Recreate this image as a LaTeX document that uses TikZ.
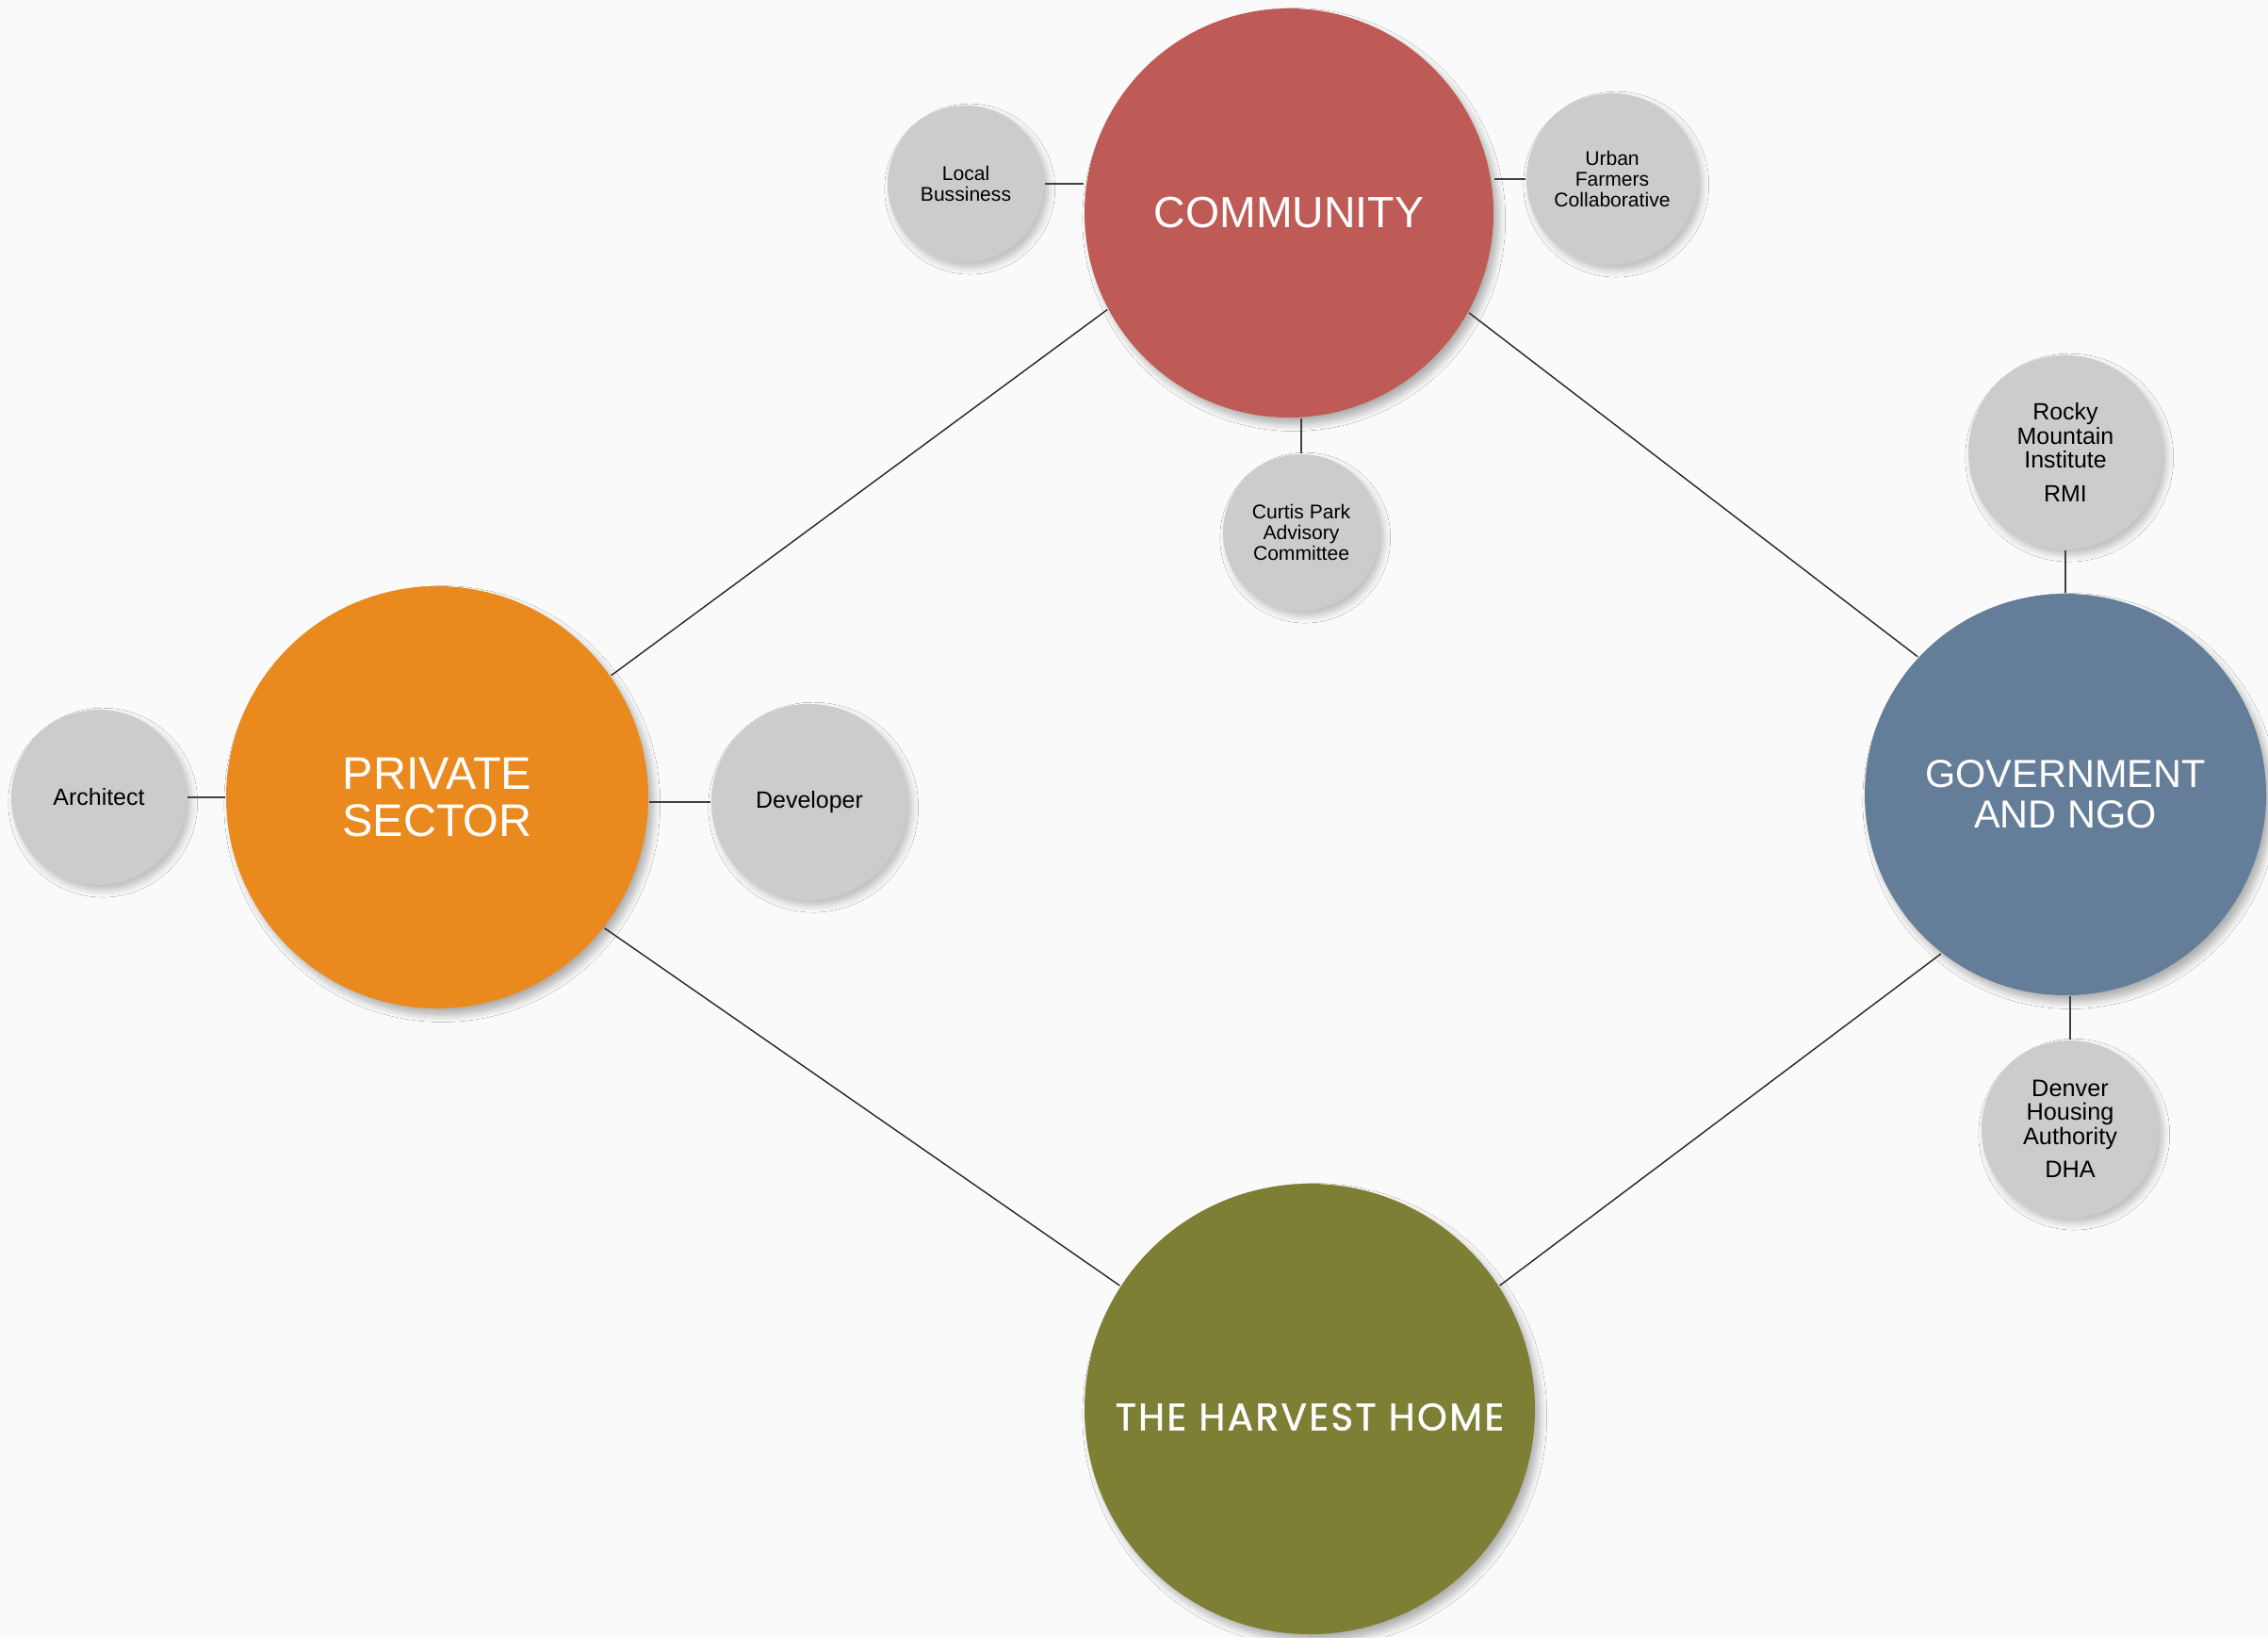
\documentclass[tikz,border=0pt]{standalone}
\usepackage{fontspec}
\setmainfont{Liberation Sans}
\newfontfamily\harvestfont[LetterSpace=6, FakeBold=1.2]{Poppins}
\usepackage{xcolor}
\usepackage{tikz}
\usetikzlibrary{shapes, shadows.blur}

\definecolor{bgpaper}{HTML}{FAFAFA}
\definecolor{commred}{HTML}{BF5B56}
\definecolor{privorange}{HTML}{EA8A1E}
\definecolor{govblue}{HTML}{647D99}
\definecolor{homegreen}{HTML}{7D7F35}
\definecolor{satgray}{HTML}{CCCCCC}

\begin{document}
\begin{tikzpicture}[thick]
    \tikzstyle{hub} = [circle, text=white, align=center, inner sep=0pt, blur shadow={shadow blur steps=8, shadow opacity=30, shadow xshift=1.5pt, shadow yshift=-2pt}]
    \tikzstyle{sat} = [circle, fill=satgray, text=black, align=center, inner sep=0pt, blur shadow={shadow blur steps=6, shadow opacity=25, shadow xshift=1.2pt, shadow yshift=-1.6pt}]
    \tikzstyle{link} = [draw, black!85, line width=0.4pt]
    \tikzstyle{spoke} = [draw, black!75, line width=0.6pt]

    \fill [bgpaper] (0,0) rectangle (24.07,-17.37);
    \useasboundingbox (0,0) rectangle (24.07,-17.37);

    % the four main circles
    \node [hub, fill=commred, minimum size=4.34cm, font=\fontsize{13.2}{14}\selectfont] (comm) at (13.68,-2.26) {COMMUNITY};
    \node [hub, fill=privorange, minimum size=4.48cm, font=\fontsize{13.8}{14.4}\selectfont] (priv) at (4.64,-8.46) {PRIVATE\\SECTOR};
    \node [hub, fill=govblue, minimum size=4.26cm, font=\fontsize{11.8}{12.2}\selectfont] (gov) at (21.92,-8.43) {GOVERNMENT\\AND NGO};
    \node [hub, fill=homegreen, minimum size=4.78cm, font=\harvestfont\fontsize{11.5}{12}\selectfont] (home) at (13.90,-14.95) {\raisebox{0pt}[12.8pt][0pt]{THE HARVEST HOME}};

    % partners
    \node [sat, minimum size=1.66cm, font=\fontsize{6}{6.3}\selectfont] (lb) at (10.25,-1.95) {Local\\Bussiness};
    \node [sat, minimum size=1.82cm, font=\fontsize{6}{6.3}\selectfont] (uf) at (17.11,-1.90) {Urban\\Farmers\\Collaborative};
    \node [sat, minimum size=1.66cm, font=\fontsize{6}{6.2}\selectfont] (cp) at (13.81,-5.65) {Curtis Park\\Advisory\\Committee};
    \node [sat, left of=priv, node distance=3.59cm, minimum size=1.86cm, font=\fontsize{7.1}{8}\selectfont] (arch) {Architect};
    \node [sat, minimum size=2.08cm, font=\fontsize{7.1}{8}\selectfont] (dev) at (8.59,-8.51) {Developer};
    \node [sat, above of=gov, node distance=3.63cm, minimum size=2.06cm, font=\fontsize{7.1}{7.2}\selectfont] (rmi) {Rocky\\Mountain\\Institute\\[3pt]RMI};
    \node [sat, minimum size=1.88cm, font=\fontsize{7.2}{7.2}\selectfont] (dha) at (21.97,-11.98) {Denver\\Housing\\Authority\\[3pt]DHA};

    \path [link] (comm.208) -- (priv.35);
    \path [link] (comm.-29) -- (gov.137);
    \path [link] (priv.-38) -- (home.147);
    \path [link] (gov.232) -- (home.33);

    \path [spoke] (lb.east) -- (comm.west |- lb.east);
    \path [spoke] (uf.west) -- (comm.east |- uf.west);
    \path [spoke] (cp.north) -- (cp |- comm.south);
    \path [spoke] (arch) -- (priv);
    \path [spoke] (dev.west) -- (priv.east |- dev.west);
    \path [spoke] (rmi) -- (gov);
    \path [spoke] (dha.north) -- (dha |- gov.south);
\end{tikzpicture}
\end{document}
